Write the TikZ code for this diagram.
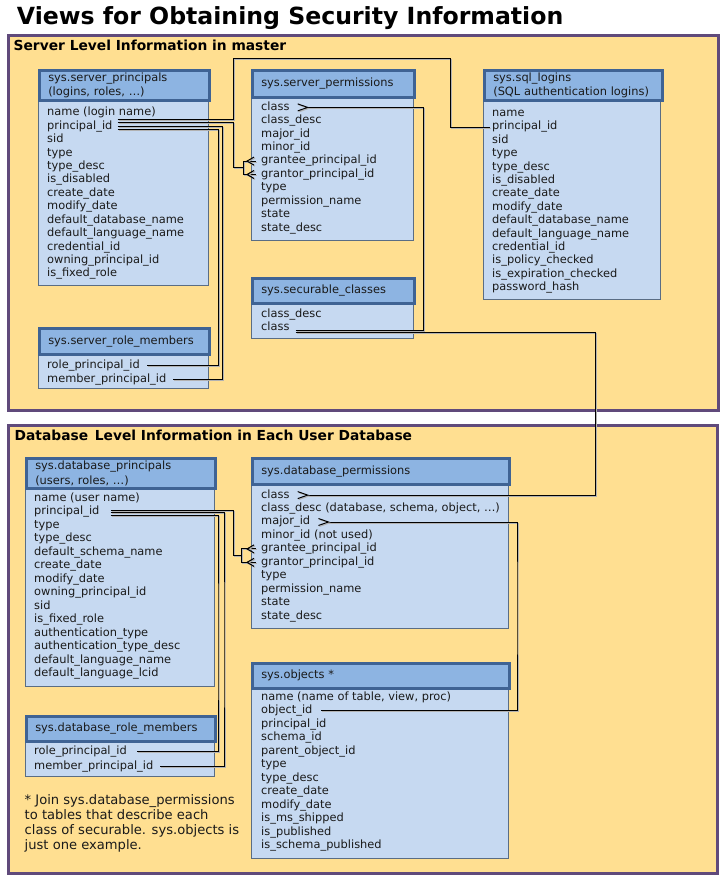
\documentclass[tikz,border=0pt]{standalone}
\usepackage{fontspec}
\setmainfont{DejaVu Sans}
\usetikzlibrary{calc}

\definecolor{panelfill}{HTML}{FFDF91}
\definecolor{panelline}{HTML}{604A7B}
\definecolor{hdrfill}{HTML}{8DB4E2}
\definecolor{hdrline}{HTML}{3F6394}
\definecolor{bodyfill}{HTML}{C6D9F1}
\definecolor{bodyline}{HTML}{5A6D84}
\definecolor{txt}{HTML}{1A1A1A}

\newcommand\rowfont{\fontsize{11.4}{13.45}\selectfont}
\newcommand\hdrfont{\fontsize{11.4}{14.5}\selectfont}
\newcommand\ttlfont{\fontsize{23.6}{28}\selectfont\bfseries}
\newcommand\pnlfont{\fontsize{13.8}{16}\selectfont\bfseries}
\newcommand\notefont{\fontsize{13.1}{15}\selectfont}

\tikzset{
  panel/.style={draw=panelline, line width=3pt, fill=panelfill, anchor=north west, inner sep=0pt},
  tbody/.style={draw=bodyline, line width=1pt, fill=bodyfill, anchor=north west, inner sep=0pt},
  thead/.style={draw=hdrline, line width=2.6pt, fill=hdrfill, anchor=north west,
    inner xsep=9pt, inner ysep=0pt, align=left, font=\hdrfont, text=txt},
  row/.style={anchor=base west, inner sep=0pt, font=\rowfont, text=txt,
    text height=8.2pt, text depth=2.4pt},
  heading/.style={anchor=base west, inner sep=0pt, text=black},
  conn/.style={draw=black, line width=1pt,
    preaction={draw=black!30, line width=1pt, transform canvas={xshift=1pt,yshift=-1pt}}},
}

% table body box: name, x, y, width, height
\newcommand\tblbody[5]{\node[tbody, minimum width=#4pt, minimum height=#5pt] (#1) at (#2,#3) {};}
% table header box: name, x, y, width, height, text
\newcommand\tblhead[6]{\pgfmathsetmacro\hdrtw{#4-18}%
  \node[thead, minimum width=#4pt, minimum height=#5pt, text width=\hdrtw pt] (#1) at (#2,#3) {#6};}
% column rows: prefix, x, first baseline, step, list
\newcommand\tblrows[5]{%
  \foreach \rowtxt [count=\ri] in {#5} {\node[row] (#1\ri) at (#2,{#3+#4*(\ri-1)}) {\rowtxt};}}
% crow's foot entering a row from the left: node, bracket distance
\newcommand\manyleft[2]{%
  \draw[conn] ([xshift=-#2pt]#1.west) -- ([xshift=-5pt]#1.west);
  \draw[conn] ([xshift=-7pt,yshift=4pt]#1.west) -- ([xshift=-14pt]#1.west) -- ([xshift=-7pt,yshift=-4pt]#1.west);}
% crow's foot leaving a row to the right
\newcommand\manyright[1]{%
  \draw[conn] ([xshift=8pt,yshift=3.5pt]#1.east) -- ([xshift=18pt]#1.east) -- ([xshift=8pt,yshift=-3.5pt]#1.east);}

\begin{document}
\begin{tikzpicture}[x=1pt,y=-1pt]
\fill[white] (0,0) rectangle (723,877);
\useasboundingbox (0,0) rectangle (723,877);

\node[heading, font=\ttlfont] (title) at (16.7,25) {Views for Obtaining Security Information};

% ---------------- server level ----------------
\node[panel, minimum width=709.5pt, minimum height=374.5pt] (srvPanel) at (7,34) {};
\node[heading, font=\pnlfont] (srvTitle) at (13.5,50.7) {Server Level Information in master};

\tblbody{spb}{38}{99}{170}{186}
\tblhead{sph}{38}{69}{170}{30}{sys.server\_principals\\(logins, roles, …)}
\tblrows{sp}{47}{115.8}{13.42}{name (login name),principal\_id,sid,type,type\_desc,is\_disabled,create\_date,modify\_date,default\_database\_name,default\_language\_name,credential\_id,owning\_principal\_id,is\_fixed\_role}

\tblbody{spmb}{251}{96}{162}{144}
\tblhead{spmh}{251}{69}{162}{27}{sys.server\_permissions}
\tblrows{spm}{261}{110.3}{13.42}{class,class\_desc,major\_id,minor\_id,grantee\_principal\_id,grantor\_principal\_id,type,permission\_name,state,state\_desc}

\tblbody{slb}{483}{99}{177}{200}
\tblhead{slh}{483}{69}{178}{30}{sys.sql\_logins\\(SQL authentication logins)}
\tblrows{sl}{492}{116.6}{13.38}{name,principal\_id,sid,type,type\_desc,is\_disabled,create\_date,modify\_date,default\_database\_name,default\_language\_name,credential\_id,is\_policy\_checked,is\_expiration\_checked,password\_hash}

\tblbody{scb}{251}{302}{162}{36}
\tblhead{sch}{251}{277}{162}{25}{sys.securable\_classes}
\tblrows{sc}{261}{317.5}{13.42}{class\_desc,class}

\tblbody{srmb}{38}{353}{170}{35}
\tblhead{srmh}{38}{327}{170}{26}{sys.server\_role\_members}
\tblrows{srm}{47}{368.3}{14.2}{role\_principal\_id,member\_principal\_id}

% ---------------- database level ----------------
\node[panel, minimum width=708.5pt, minimum height=447.5pt] (dbPanel) at (7,424) {};
\node[heading, font=\pnlfont] (dbTitle) at (14.5,440.7) {Database\hspace{2pt} Level Information in Each User Database};

\tblbody{dpb}{25}{487}{189}{199}
\tblhead{dph}{25}{457}{189}{30}{sys.database\_principals\\(users, roles, …)}
\tblrows{dp}{34}{501}{13.52}{name (user name),principal\_id,type,type\_desc,default\_schema\_name,create\_date,modify\_date,owning\_principal\_id,sid,is\_fixed\_role,authentication\_type,authentication\_type\_desc,default\_language\_name,default\_language\_lcid}

\tblbody{dpmb}{251}{483}{257}{145}
\tblhead{dpmh}{251}{457}{257}{26}{sys.database\_permissions}
\tblrows{dpm}{261}{498}{13.45}{class,{class\_desc (database, schema, object, …)},major\_id,{minor\_id (not used)},grantee\_principal\_id,grantor\_principal\_id,type,permission\_name,state,state\_desc}

\tblbody{objb}{251}{687}{257}{171}
\tblhead{objh}{251}{662}{257}{25}{sys.objects *}
\tblrows{obj}{261}{700}{13.52}{{name (name of table, view, proc)},object\_id,principal\_id,schema\_id,parent\_object\_id,type,type\_desc,create\_date,modify\_date,is\_ms\_shipped,is\_published,is\_schema\_published}

\tblbody{drmb}{25}{740}{189}{36}
\tblhead{drmh}{25}{715}{189}{25}{sys.database\_role\_members}
\tblrows{drm}{34}{754.5}{14.5}{role\_principal\_id,member\_principal\_id}

\node[anchor=north west, inner sep=0pt, align=left, font=\notefont, text=txt] (note) at (24.5,794)
  {* Join sys.database\_permissions\\to tables that describe each\\class of securable. sys.objects is\\just one example.};

% ---------------- routing points ----------------
\coordinate (srvTopL) at (233,59);
\coordinate (srvTopR) at (450,59);
\coordinate (srvColOut) at (222.5,250);
\coordinate (srvColIn) at (218.5,250);
\coordinate (clsColA) at (423.5,200);
\coordinate (clsColB) at (595.5,420);
\coordinate (majCol) at (517,600);
\coordinate (dbColOut) at (224,650);
\coordinate (dbColIn) at (218,650);
\coordinate (srvFork) at ($([xshift=-18pt]spm5.west)!0.5!([xshift=-18pt]spm6.west)$);
\coordinate (dbFork) at ($([xshift=-20pt]dpm5.west)!0.5!([xshift=-20pt]dpm6.west)$);

% ---------------- server connectors ----------------
\draw[conn] ([xshift=5pt,yshift=6.6pt]sp2.east) -| (srvTopL) -- (srvTopR) |- ([xshift=-2pt]sl2.west);
\draw[conn] ([xshift=5pt,yshift=3.9pt]sp2.east) -| ([xshift=-10pt]srvFork) -- (srvFork);
\draw[conn] ([xshift=5pt,yshift=-0.1pt]sp2.east) -| (srvColOut) |- ([xshift=6pt]srm2.east);
\draw[conn] ([xshift=5pt,yshift=-3.4pt]sp2.east) -| (srvColIn) |- ([xshift=7pt]srm1.east);
\draw[conn] ([xshift=-18pt]spm5.west) -- ([xshift=-18pt]spm6.west);
\manyleft{spm5}{18}
\manyleft{spm6}{18}
\draw[conn] ([xshift=6pt,yshift=-2pt]sc2.east) -| (clsColA) |- ([xshift=18pt]spm1.east);
\manyright{spm1}

% ---------------- database connectors ----------------
\draw[conn] ([xshift=6pt,yshift=-4.5pt]sc2.east) -| (clsColB) |- ([xshift=18pt]dpm1.east);
\manyright{dpm1}
\draw[conn] ([xshift=18pt]dpm3.east) -| (majCol) |- ([xshift=8pt]obj2.east);
\manyright{dpm3}
\draw[conn] ([xshift=11pt,yshift=1pt]dp2.east) -| ([xshift=-8pt]dbFork) -- (dbFork);
\draw[conn] ([xshift=11pt,yshift=-1.3pt]dp2.east) -| (dbColOut) |- ([xshift=6pt]drm2.east);
\draw[conn] ([xshift=11pt,yshift=-3.5pt]dp2.east) -| (dbColIn) |- ([xshift=10pt]drm1.east);
\draw[conn] ([xshift=-20pt]dpm5.west) -- ([xshift=-20pt]dpm6.west);
\manyleft{dpm5}{20}
\manyleft{dpm6}{20}
\end{tikzpicture}
\end{document}
